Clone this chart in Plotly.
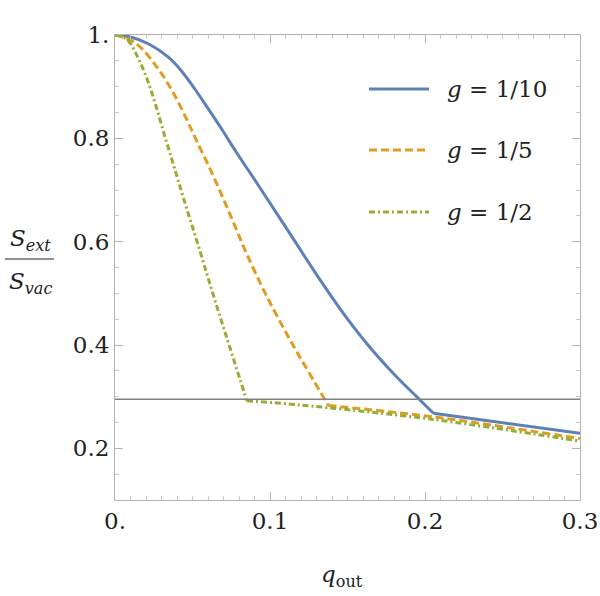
import plotly.graph_objects as go

# g = 1/10
q_g10 = [0, 0.01, 0.0215, 0.0344, 0.043, 0.0516, 0.0602, 0.0688, 0.0785, 0.0914, 0.1097, 0.1323, 0.1452, 0.1624, 0.1796, 0.1946, 0.2054, 0.3]
s_g10 = [1.0, 0.996, 0.983, 0.957, 0.930, 0.895, 0.857, 0.818, 0.772, 0.714, 0.630, 0.526, 0.470, 0.403, 0.345, 0.300, 0.268, 0.229]
# g = 1/5
q_g5 = [0, 0.0129, 0.028, 0.0387, 0.0473, 0.0527, 0.0613, 0.0699, 0.0774, 0.085, 0.0978, 0.1129, 0.1194, 0.128, 0.1376, 0.2054, 0.3]
s_g5 = [1.0, 0.985, 0.934, 0.882, 0.830, 0.795, 0.741, 0.683, 0.630, 0.576, 0.495, 0.410, 0.376, 0.332, 0.283, 0.261, 0.219]
# g = 1/2
q_g2 = [0, 0.0075, 0.015, 0.0215, 0.0269, 0.0323, 0.0376, 0.0441, 0.0548, 0.0634, 0.0721, 0.0806, 0.085, 0.1194, 0.2054, 0.3]
s_g2 = [1.0, 0.992, 0.955, 0.908, 0.858, 0.802, 0.750, 0.685, 0.582, 0.497, 0.414, 0.334, 0.292, 0.284, 0.256, 0.214]
kink_index = [16, 14, 12]

threshold = 0.295
series_names = ["<i>g</i> = 1/10", "<i>g</i> = 1/5", "<i>g</i> = 1/2"]
x_ticks = [0, 0.1, 0.2, 0.3]
x_ticklabels = ["0.", "0.1", "0.2", "0.3"]
y_ticks = [0.2, 0.4, 0.6, 0.8, 1.0]
y_ticklabels = ["0.2", "0.4", "0.6", "0.8", "1."]

colors = ["#5E81B5", "#E19C24", "#8FB032"]
dashes = ["solid", "8px,4px", "6px,3px,2px,3px"]
FONT = "DejaVu Serif"

fig = go.Figure()
for q, s, c, d, n, k in zip([q_g10, q_g5, q_g2], [s_g10, s_g5, s_g2], colors, dashes, series_names, kink_index):
    # smooth part up to the kink, then the tail after the kink
    fig.add_trace(go.Scatter(x=q[:k + 1], y=s[:k + 1], mode="lines", name=n,
                             line=dict(color=c, width=3, dash=d, shape="spline", smoothing=1.0),
                             showlegend=False))
    fig.add_trace(go.Scatter(x=q[k:], y=s[k:], mode="lines", name=n,
                             line=dict(color=c, width=3, dash=d, shape="spline", smoothing=0.8),
                             showlegend=False))

fig.add_trace(go.Scatter(x=[0, 0.3], y=[threshold, threshold], mode="lines",
                         line=dict(color="#808080", width=1.5), showlegend=False))

axis_common = dict(showline=True, linecolor="#b3b3b3", linewidth=1, mirror="ticks",
                   ticks="inside", ticklen=8, tickcolor="#b3b3b3", tickwidth=1,
                   showgrid=False, zeroline=False, automargin=False,
                   tickfont=dict(family=FONT, size=23, color="#222"))

fig.update_xaxes(range=[0, 0.3], tickvals=x_ticks, ticktext=x_ticklabels,
                 minor=dict(dtick=0.01, ticklen=4, tickcolor="#c8c8c8", ticks="inside", showgrid=False),
                 **axis_common)
fig.update_yaxes(range=[0.1, 1.0], tickvals=y_ticks, ticktext=y_ticklabels,
                 minor=dict(dtick=0.05, tick0=0, ticklen=4, tickcolor="#c8c8c8", ticks="inside", showgrid=False),
                 **axis_common)

W, H = 600, 596
L, R, T, B = 115, 20, 35, 96
pw, ph = W - L - R, H - T - B

def px(xp):
    return (xp - L) / pw

def py(yp):
    return (H - B - yp) / ph

annotations = []
shapes = []
# manual legend
rows = [89, 150, 212]
for n, c, d, yr in zip(series_names, colors, dashes, rows):
    shapes.append(dict(type="line", xref="paper", yref="paper", x0=px(369), x1=px(429),
                       y0=py(yr), y1=py(yr), line=dict(color=c, width=3, dash=d)))
    annotations.append(dict(xref="paper", yref="paper", x=px(445), y=py(yr), text=n,
                            showarrow=False, xanchor="left", yanchor="middle",
                            font=dict(family=FONT, size=23, color="#222")))

# y-axis label as fraction
annotations.append(dict(xref="paper", yref="paper", x=px(30), y=py(240),
                        text="<i>S</i><sub><i>ext</i></sub>", showarrow=False,
                        xanchor="center", yanchor="middle",
                        font=dict(family=FONT, size=23, color="#222")))
annotations.append(dict(xref="paper", yref="paper", x=px(30), y=py(283),
                        text="<i>S</i><sub><i>vac</i></sub>", showarrow=False,
                        xanchor="center", yanchor="middle",
                        font=dict(family=FONT, size=23, color="#222")))
shapes.append(dict(type="line", xref="paper", yref="paper", x0=px(5), x1=px(54),
                   y0=py(259), y1=py(259), line=dict(color="#222", width=1)))
# x-axis label
annotations.append(dict(xref="paper", yref="paper", x=px(342), y=py(576),
                        text="<i>q</i><sub>out</sub>", showarrow=False,
                        xanchor="center", yanchor="middle",
                        font=dict(family=FONT, size=23, color="#222")))

fig.update_layout(width=W, height=H, margin=dict(l=L, r=R, t=T, b=B, autoexpand=False),
                  plot_bgcolor="white", paper_bgcolor="white",
                  annotations=annotations, shapes=shapes, showlegend=False)

fig.write_html("out.html")
